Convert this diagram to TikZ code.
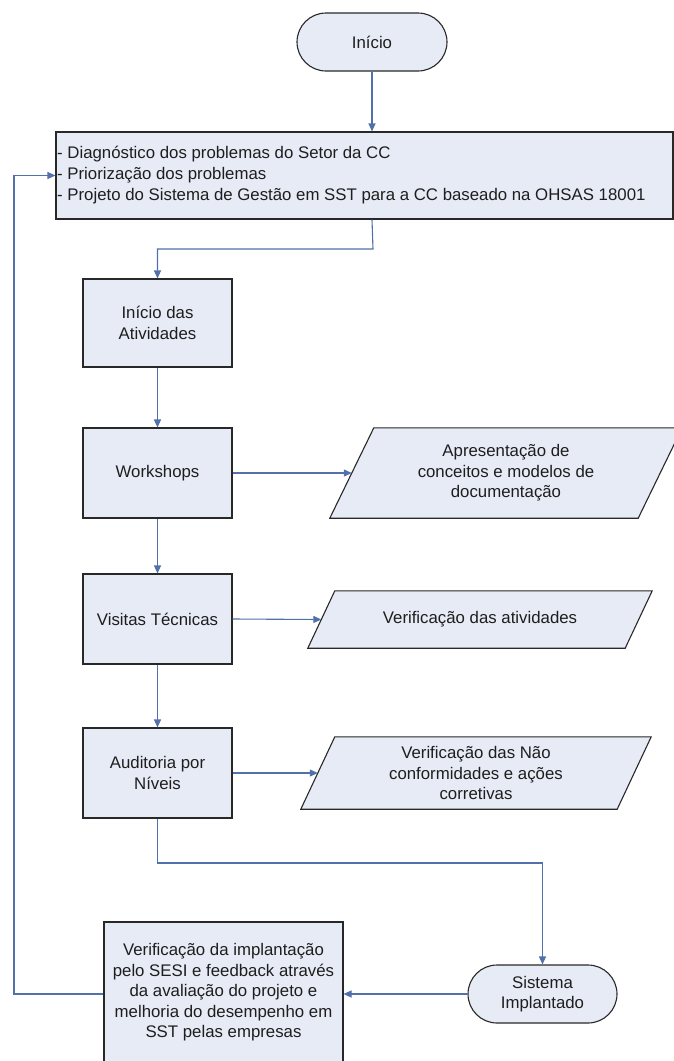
\documentclass[tikz,border=0pt]{standalone}
\usepackage{fontspec}
\setmainfont{Liberation Sans}
\usetikzlibrary{arrows.meta,shapes.misc,backgrounds}
\definecolor{boxfill}{RGB}{230,235,245}
\definecolor{boxline}{RGB}{40,40,40}
\definecolor{arrowc}{RGB}{82,112,170}
\definecolor{txt}{RGB}{30,30,30}
\begin{document}
\begin{tikzpicture}[x=1pt,y=-1pt,
  every node/.style={font=\fontsize{16.8}{20.5}\selectfont, text=txt},
  box/.style={draw=boxline, fill=boxfill, line width=1.1pt, rectangle, inner sep=0pt, align=center},
  term/.style={draw=boxline, fill=boxfill, line width=1.1pt, rounded rectangle, inner sep=0pt, align=center},
  paratext/.style={rectangle, inner sep=0pt, align=center},
  parashape/.style={draw=boxline, fill=boxfill, line width=1.1pt},
  conn/.style={draw=arrowc, line width=1.1pt},
  arr/.style={conn, -{Triangle[length=8pt,width=7pt]}}
]
\useasboundingbox (0,0) rectangle (674,1061);

% nodes
\node[term, minimum width=150pt, minimum height=58pt] (inicio) at (372,42) {Início};
\node[box, minimum width=617pt, minimum height=87pt] (diag) at (364.5,175.5) {};
\node[anchor=west, align=left, inner sep=0pt, font=\fontsize{16.8}{21}\selectfont] (diagtext) at (57,175.5)
  {- Diagnóstico dos problemas do Setor da CC\\- Priorização dos problemas\\- Projeto do Sistema de Gestão em SST para a CC baseado na OHSAS 18001};
\node[box, minimum width=149pt, minimum height=88pt] (ativ) at (157.5,323) {Início das\\Atividades};
\node[box, minimum width=149pt, minimum height=90pt] (work) at (157.5,473) {Workshops};
\node[box, minimum width=149pt, minimum height=90pt] (visit) at (157.5,619) {Visitas Técnicas};
\node[box, minimum width=149pt, minimum height=90pt] (audit) at (157.5,773) {Auditoria por\\Níveis};
\node[box, minimum width=239pt, minimum height=141pt] (verif) at (223.5,992.5)
  {Verificação da implantação\\pelo SESI e feedback através\\da avaliação do projeto e\\melhoria do desempenho em\\SST pelas empresas};
\node[term, minimum width=149pt, minimum height=58pt] (sist) at (542.5,994) {Sistema\\Implantado};

\node[paratext, minimum width=308pt, minimum height=90pt] (p1) at (506,473) {Apresentação de\\conceitos e modelos de\\documentação};
\node[paratext, minimum width=317pt, minimum height=57pt] (p2) at (480,619.5) {Verificação das atividades};
\node[paratext, minimum width=316pt, minimum height=72pt] (p3) at (476,773) {Verificação das Não\\conformidades e ações\\corretivas};

\begin{scope}[on background layer]
\draw[parashape] ([xshift=22pt]p1.north west) -- ([xshift=22pt]p1.north east) -- ([xshift=-22pt]p1.south east) -- ([xshift=-22pt]p1.south west) -- cycle;
\draw[parashape] ([xshift=13.5pt]p2.north west) -- ([xshift=13.5pt]p2.north east) -- ([xshift=-13.5pt]p2.south east) -- ([xshift=-13.5pt]p2.south west) -- cycle;
\draw[parashape] ([xshift=17pt]p3.north west) -- ([xshift=17pt]p3.north east) -- ([xshift=-17pt]p3.south east) -- ([xshift=-17pt]p3.south west) -- cycle;
\end{scope}

% connectors
\coordinate (b1) at (373,249);
\coordinate (b2) at (157.5,863);
\coordinate (b3) at (14,994);
\draw[arr] (inicio.south) -- (inicio.south |- diag.north);
\draw[arr] (inicio.south |- diag.south) -- (b1) -| (ativ.north);
\draw[arr] (ativ) -- (work);
\draw[arr] (work) -- (visit);
\draw[arr] (visit) -- (audit);
\draw[arr] (work.east) -- (p1.west);
\draw[arr] (visit.east) -- (p2.west);
\draw[arr] (audit.east) -- (p3.west);
\draw[arr] (audit.south) -- (b2) -| (sist.north);
\draw[arr] (sist.west) -- (sist.west -| verif.east);
\draw[arr] (verif.west |- sist.west) -- (b3) |- (diag.west);
\end{tikzpicture}
\end{document}
